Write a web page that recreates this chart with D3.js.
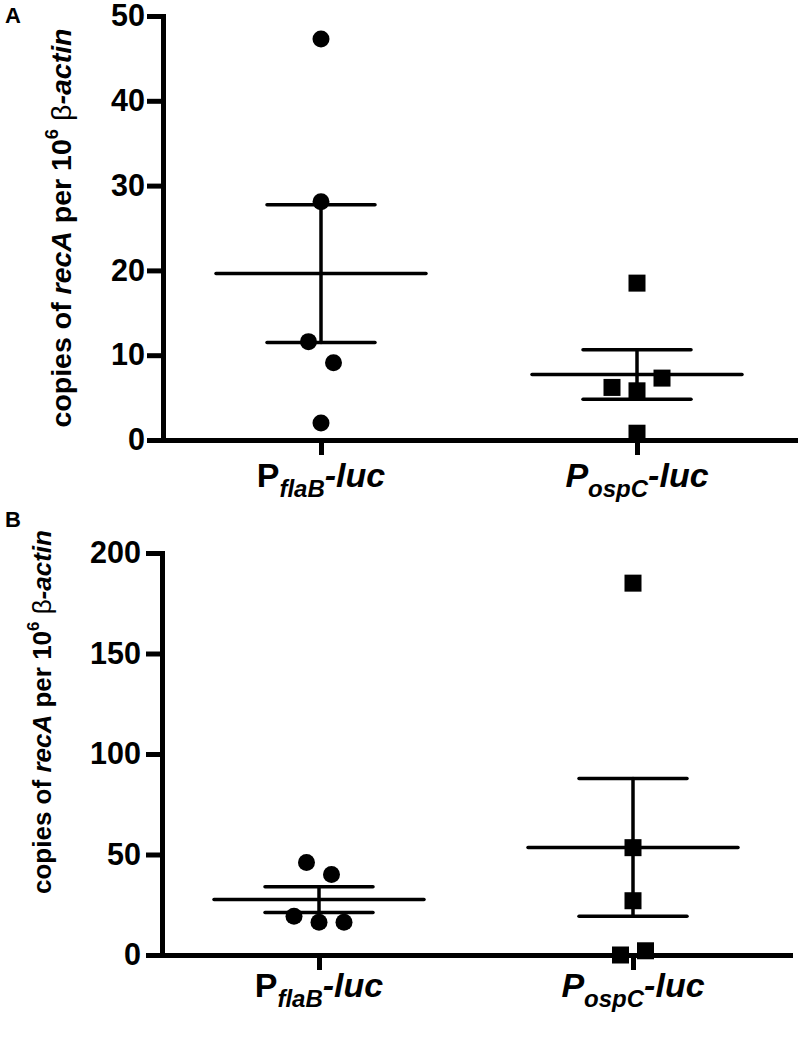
<!DOCTYPE html>
<html><head><meta charset="utf-8">
<script src="https://cdn.jsdelivr.net/npm/d3@7"></script>
<style>
body{margin:0;background:#fff}
svg{display:block}
text{font-family:"Liberation Sans",Arial,Helvetica,sans-serif;white-space:pre}
</style>
</head><body>
<svg id="c" width="800" height="1045"></svg>
<script>
// ---------- data ----------
const categories = ["flaB", "ospC"];
const panelA_flaB = [47.3, 28.1, 11.6, 9.1, 2.0];
const panelA_ospC = [18.5, 7.3, 6.2, 5.8, 0.8];
const panelB_flaB = [46.0, 40.0, 19.3, 16.3, 16.3];
const panelB_ospC = [185.0, 53.4, 27.0, 0.0, 2.1];
const ticksA = [0, 10, 20, 30, 40, 50];
const ticksB = [0, 50, 100, 150, 200];

// ---------- layout (jitter slots, in marker units) ----------
const jitterA = { flaB: [0, 0, -1, 1, 0], ospC: [0, 2, -2, 0, 0] };
const jitterB = { flaB: [-1, 1, -2, 0, 2], ospC: [0, 0, 0, -1, 1] };
const jitterUnit = 12.5;

const panels = [
  { letter: "A", data: { flaB: panelA_flaB, ospC: panelA_ospC }, ticks: ticksA, jitter: jitterA,
    x0: 163, x1: 795, yTop: 16, yBot: 440, tickPad: 2, labelDy: 47,
    titleX: 71, titleY: 228, titleSize: 28.5, letterY: 23 },
  { letter: "B", data: { flaB: panelB_flaB, ospC: panelB_ospC }, ticks: ticksB, jitter: jitterB,
    x0: 162, x1: 790, yTop: 553, yBot: 955, tickPad: 5, labelDy: 42,
    titleX: 51, titleY: 712, titleSize: 26, letterY: 527 }
];

const svg = d3.select("#c");

panels.forEach(p => {
  const g = svg.append("g");
  const y = d3.scaleLinear().domain([0, d3.max(p.ticks)]).range([p.yBot, p.yTop]);
  const x = d3.scalePoint().domain(categories).range([p.x0, p.x1]).padding(0.5);

  // y axis
  const ya = g.append("g").attr("transform", `translate(${p.x0},0)`)
    .call(d3.axisLeft(y).tickValues(p.ticks).tickSize(16).tickSizeOuter(0).tickPadding(p.tickPad));
  // x axis
  const xa = g.append("g").attr("transform", `translate(0,${p.yBot})`)
    .call(d3.axisBottom(x).tickSize(15).tickSizeOuter(0).tickFormat(""));
  [ya, xa].forEach(a => {
    a.select(".domain").attr("stroke", "#000").attr("stroke-width", 5).attr("stroke-linecap", "square");
    a.selectAll(".tick line").attr("stroke", "#000").attr("stroke-width", 5);
  });
  ya.selectAll(".tick text").attr("fill", "#000").style("font-size", "30.5px").style("font-weight", "bold")
    .style("font-family", '"Liberation Sans",Arial,sans-serif');

  // category labels
  categories.forEach(c => {
    const t = g.append("text").attr("x", x(c)).attr("y", p.yBot + p.labelDy)
      .attr("text-anchor", "middle").attr("fill", "#000")
      .style("font-size", "34px").style("font-weight", "bold");
    t.append("tspan").text("P").style("font-style", c === "ospC" ? "italic" : "normal");
    t.append("tspan").text(c).attr("dy", 10).style("font-size", "24px").style("font-style", "italic");
    t.append("tspan").text("-luc").attr("dy", -10).style("font-style", "italic");
  });

  // y title
  const tt = g.append("text").attr("transform", `translate(${p.titleX},${p.titleY}) rotate(-90)`)
    .attr("text-anchor", "middle").attr("fill", "#000")
    .style("font-size", p.titleSize + "px").style("font-weight", "bold");
  tt.append("tspan").text("copies of ");
  tt.append("tspan").text("recA").style("font-style", "italic");
  tt.append("tspan").text(" per 10");
  tt.append("tspan").text("6").attr("dy", -p.titleSize * 0.45).style("font-size", (p.titleSize * 0.65) + "px");
  tt.append("tspan").text(" β").attr("dy", p.titleSize * 0.45).style("font-weight", "normal");
  tt.append("tspan").text("-actin").style("font-style", "italic");

  // panel letter
  g.append("text").attr("x", 5).attr("y", p.letterY).text(p.letter)
    .attr("fill", "#000").style("font-size", "22px").style("font-weight", "bold");

  // mean ± SEM
  categories.forEach(c => {
    const v = p.data[c];
    const m = d3.mean(v);
    const sem = d3.deviation(v) / Math.sqrt(v.length);
    const cx = x(c);
    const eg = g.append("g").attr("stroke", "#000").attr("stroke-width", 3.5).attr("stroke-linecap", "round");
    eg.append("line").attr("x1", cx - 105).attr("x2", cx + 105).attr("y1", y(m)).attr("y2", y(m));
    eg.append("line").attr("x1", cx - 54).attr("x2", cx + 54).attr("y1", y(m + sem)).attr("y2", y(m + sem));
    eg.append("line").attr("x1", cx - 54).attr("x2", cx + 54).attr("y1", y(m - sem)).attr("y2", y(m - sem));
    eg.append("line").attr("x1", cx).attr("x2", cx).attr("y1", y(m + sem)).attr("y2", y(m - sem));
  });

  // points
  const flab = p.data.flaB.map((v, i) => ({ v, j: p.jitter.flaB[i] }));
  g.selectAll("circle.pt").data(flab).join("circle").attr("class", "pt")
    .attr("cx", d => x("flaB") + d.j * jitterUnit).attr("cy", d => y(d.v)).attr("r", 8.5).attr("fill", "#000");
  const osp = p.data.ospC.map((v, i) => ({ v, j: p.jitter.ospC[i] }));
  const s = 17;
  g.selectAll("rect.pt").data(osp).join("rect").attr("class", "pt")
    .attr("x", d => x("ospC") + d.j * jitterUnit - s / 2).attr("y", d => y(d.v) - s / 2)
    .attr("width", s).attr("height", s).attr("fill", "#000");
});
</script>
</body></html>
